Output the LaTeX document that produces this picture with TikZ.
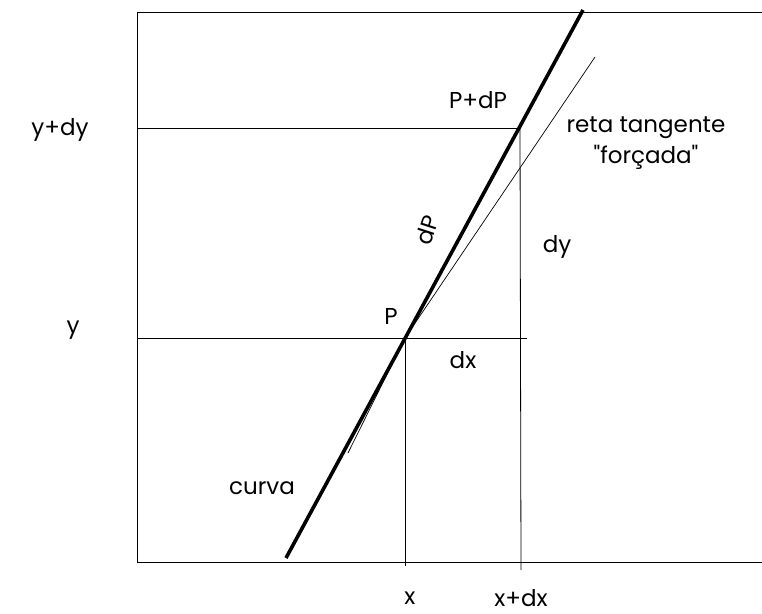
\documentclass[tikz,border=0pt]{standalone}
\usepackage{fontspec}
\setmainfont{Poppins}
\usepackage{tikz}

\begin{document}
\begin{tikzpicture}[
x=1pt, y=-1pt,
thinline/.style={line width=0.8pt, black},
thickline/.style={line width=3.6pt, black},
lbl/.style={font=\fontsize{23}{31}\selectfont, inner sep=0pt, align=center}
]
\useasboundingbox (0,0) rectangle (762,613);
% frame
\coordinate (tl) at (137,12);
\coordinate (tr) at (762,12);
\coordinate (bl) at (137,562);
\coordinate (br) at (762,562);
\draw[thinline] (tr) -- (tl) -- (bl) -- (br);
% points on the curve
\coordinate (P) at (405,338);
\coordinate (Q) at (520,128);
\coordinate (yq) at (137,128);
\coordinate (yp) at (137,338);
\coordinate (ypend) at (527,338);
\coordinate (xp) at (405,566);
\coordinate (xq) at (521,570);
\draw[thinline] (yq) -- (Q);
\draw[thinline] (yp) -- (ypend);
\draw[thinline] (P) -- (xp);
\draw[thinline] (Q) -- (xq);
% curve and tangent
\coordinate (c0) at (286,558);
\coordinate (c1) at (583,10);
\coordinate (t0) at (348,453);
\coordinate (t1) at (595,57);
\draw[thinline, line width=0.7pt] (t0) -- (P) -- (t1);
\draw[thickline] (c0) -- (c1);
% labels
\node[lbl] (ydy) at (60,130) {y+dy};
\node[lbl] (ylab) at (73,330) {y};
\node[lbl] (PdP) at (478,100) {P+dP};
\node[lbl] (reta) at (646,143) {reta tangente\\\textquotedbl forçada\textquotedbl};
\node[lbl, rotate=72] (dP) at (427,230) {dP};
\node[lbl] (dy) at (557,247) {dy};
\node[lbl] (Plab) at (391,316) {P};
\node[lbl] (dx) at (463,360) {dx};
\node[lbl] (curva) at (262,488) {curva};
\node[lbl] (xlab) at (410,598) {x};
\node[lbl] (xdx) at (521,598) {x+dx};
\end{tikzpicture}
\end{document}
